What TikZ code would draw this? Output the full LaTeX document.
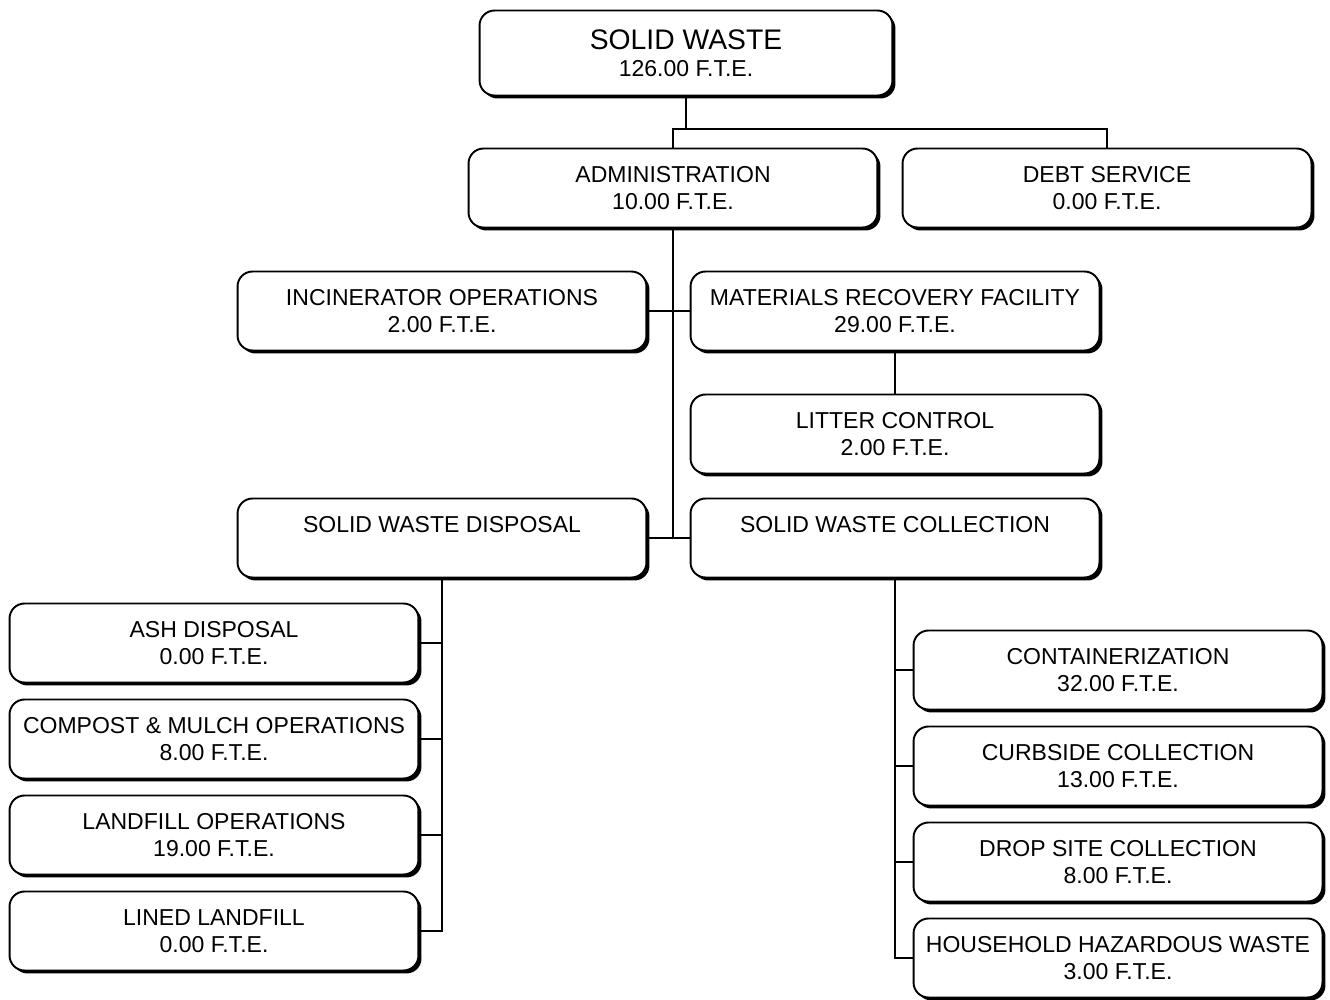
\documentclass[tikz,border=0pt]{standalone}
\usepackage{fontspec}
\setmainfont{Liberation Sans}
\usetikzlibrary{shadows}

\begin{document}
\begin{tikzpicture}[x=0.02cm, y=-0.02cm,
    box/.style={draw, line width=1.1pt, rounded corners=0.3cm, fill=white,
      minimum width=8.18cm, minimum height=1.58cm, inner sep=0pt, outer sep=0pt,
      align=center, font=\fontsize{13.1}{15.4}\selectfont,
      drop shadow={shadow xshift=0.06cm, shadow yshift=-0.06cm, fill=black, opacity=1}},
    link/.style={line width=1.2pt}]
  \useasboundingbox (0,0) rectangle (1330,1000);

  \node[box, minimum width=8.26cm, minimum height=1.7cm] (sw) at (686,53)
    {{\fontsize{16.1}{17}\selectfont SOLID WASTE}\\126.00 F.T.E.};
  \node[box] (admin) at (673,188) {ADMINISTRATION\\10.00 F.T.E.};
  \node[box] (debt) at (1107,188) {DEBT SERVICE\\0.00 F.T.E.};
  \node[box] (incin) at (442,311) {INCINERATOR OPERATIONS\\2.00 F.T.E.};
  \node[box] (mrf) at (895,311) {MATERIALS RECOVERY FACILITY\\29.00 F.T.E.};
  \node[box] (litter) at (895,434) {LITTER CONTROL\\2.00 F.T.E.};
  \node[box] (swd) at (442,538) {SOLID WASTE DISPOSAL\\\mbox{}};
  \node[box] (swc) at (895,538) {SOLID WASTE COLLECTION\\\mbox{}};

  % disposal side
  \foreach \n/\t/\v/\y in {ash/ASH DISPOSAL/0.00/643,
      compost/COMPOST \& MULCH OPERATIONS/8.00/739,
      landfill/LANDFILL OPERATIONS/19.00/835,
      lined/LINED LANDFILL/0.00/931}
    \node[box] (\n) at (214,\y) {\t\\\v{} F.T.E.};

  % collection side
  \foreach \n/\t/\v/\y in {cont/CONTAINERIZATION/32.00/670,
      curb/CURBSIDE COLLECTION/13.00/766,
      drop/DROP SITE COLLECTION/8.00/862,
      hhw/HOUSEHOLD HAZARDOUS WASTE/3.00/958}
    \node[box] (\n) at (1118,\y) {\t\\\v{} F.T.E.};

  \coordinate (bus) at (686,129);
  \draw[link] (sw.south) -- (bus);
  \draw[link] (admin.north) |- (bus) -| (debt.north);
  \draw[link] (admin.south) -- (admin.south |- swd.east);
  \draw[link] (incin.east) -- (mrf.west);
  \draw[link] (mrf.south) -- (litter.north);
  \draw[link] (swd.east) -- (swc.west);

  \draw[link] (swd.south) |- (lined.east);
  \foreach \n in {ash,compost,landfill}
    \draw[link] (\n.east) -- (\n.east -| swd.south);
  \draw[link] (swc.south) |- (hhw.west);
  \foreach \n in {cont,curb,drop}
    \draw[link] (\n.west) -- (\n.west -| swc.south);
\end{tikzpicture}
\end{document}
